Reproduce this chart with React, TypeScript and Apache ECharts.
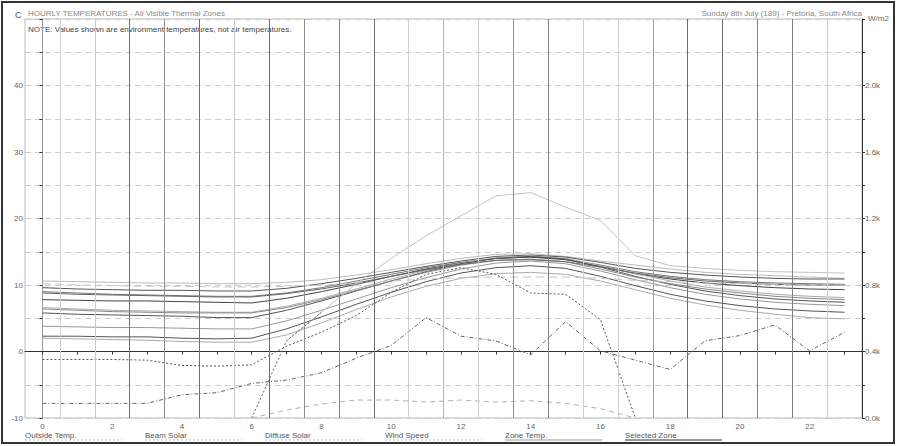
import React, { useEffect, useRef } from "react";
import * as echarts from "echarts";

const FONT = '"Liberation Sans", Arial, sans-serif';

// ---- axes / categories ----
const hours = [0, 1, 2, 3, 4, 5, 6, 7, 8, 9, 10, 11, 12, 13, 14, 15, 16, 17, 18, 19, 20, 21, 22, 23];
const xLabelHours = [0, 2, 4, 6, 8, 10, 12, 14, 16, 18, 20, 22];
const halfHourLines = [0.5, 1.5, 2.5, 3.5, 4.5, 5.5, 6.5, 7.5, 8.5, 9.5, 10.5, 11.5, 12.5, 13.5, 14.5, 15.5, 16.5, 17.5, 18.5, 19.5, 20.5, 21.5, 22.5];
const halfHourShades = ["#d2d2d2", "#c8c8c8", "#707070", "#909090", "#707070", "#c8c8c8", "#6c6c6c", "#909090", "#808080", "#6c6c6c", "#d0d0d0", "#b4b4b4", "#cccccc", "#909090", "#808080", "#d0d0d0", "#d0d0d0", "#a0a0a0", "#6c6c6c", "#6c6c6c", "#808080", "#808080", "#d0d0d0"];

// ---- zone temperatures (deg C) ----
const zone1 = [10.6, 10.5, 10.4, 10.3, 10.3, 10.2, 10.2, 10.4, 10.8, 11.5, 12.3, 13.2, 14.0, 14.6, 14.7, 14.3, 13.6, 13.0, 12.4, 11.9, 11.6, 11.4, 11.2, 11.0];
const zone2 = [9.6, 9.4, 9.3, 9.2, 9.2, 9.1, 9.1, 9.5, 10.2, 11.0, 11.9, 12.8, 13.6, 14.3, 14.5, 14.2, 13.4, 12.5, 11.9, 11.5, 11.2, 11.0, 10.9, 10.9];
const zone3 = [9.0, 8.8, 8.6, 8.5, 8.4, 8.3, 8.3, 8.8, 9.6, 10.6, 11.6, 12.6, 13.4, 14.0, 14.2, 13.9, 13.0, 12.0, 11.3, 10.8, 10.5, 10.3, 10.2, 10.1];
const zone4 = [7.8, 7.7, 7.6, 7.6, 7.5, 7.4, 7.3, 8.0, 9.0, 10.1, 11.3, 12.4, 13.3, 14.0, 14.2, 13.8, 12.8, 11.7, 10.9, 10.3, 9.9, 9.6, 9.4, 9.3];
const zone5 = [6.6, 6.4, 6.2, 6.1, 6.0, 5.9, 5.9, 6.8, 8.0, 9.4, 10.9, 12.2, 13.3, 14.1, 14.4, 14.0, 12.9, 11.7, 10.6, 9.7, 9.1, 8.6, 8.3, 8.1];
const zone6 = [5.8, 5.6, 5.5, 5.4, 5.3, 5.1, 5.1, 6.2, 7.6, 9.1, 10.6, 12.0, 13.2, 14.0, 14.3, 13.9, 12.7, 11.3, 10.1, 9.1, 8.4, 7.9, 7.6, 7.4];
const zone7 = [6.4, 6.2, 6.0, 5.9, 5.8, 5.8, 5.8, 6.6, 7.8, 9.2, 10.6, 11.9, 13.0, 13.7, 13.9, 13.5, 12.4, 11.2, 10.2, 9.4, 8.8, 8.3, 8.0, 7.8];
const zone8 = [3.8, 3.7, 3.6, 3.6, 3.5, 3.4, 3.4, 4.6, 6.2, 7.9, 9.6, 11.1, 12.4, 13.3, 13.6, 13.2, 12.1, 10.8, 9.6, 8.6, 7.9, 7.4, 7.1, 6.9];
const zone9 = [2.3, 2.3, 2.2, 2.2, 2.0, 1.9, 2.0, 3.4, 5.2, 7.1, 8.9, 10.5, 11.8, 12.6, 12.9, 12.5, 11.3, 9.9, 8.6, 7.6, 6.9, 6.4, 6.1, 5.9];
const zone10 = [2.0, 1.9, 1.8, 1.7, 1.5, 1.4, 1.4, 2.5, 4.3, 6.3, 8.2, 9.8, 11.0, 11.7, 11.9, 11.6, 10.6, 9.3, 8.0, 7.0, 6.2, 5.6, 5.1, 4.9];
const zone11 = [8.8, 8.6, 8.5, 8.4, 8.3, 8.2, 8.2, 8.7, 9.4, 10.3, 11.3, 12.3, 13.1, 13.7, 13.8, 13.5, 12.7, 11.8, 11.1, 10.6, 10.3, 10.1, 10.0, 10.0];
const zone12 = [10.2, 10.0, 9.9, 9.8, 9.8, 9.7, 9.7, 9.8, 10.0, 10.3, 10.6, 10.9, 11.1, 11.2, 11.2, 11.2, 11.0, 10.7, 10.5, 10.3, 10.2, 10.1, 10.0, 10.0];
const zoneColors = ["#bbbbbb", "#555555", "#777777", "#444444", "#aaaaaa", "#555555", "#888888", "#999999", "#555555", "#aaaaaa", "#666666", "#c4c4c4"];

// ---- climate / other curves (read on the left scale) ----
const sunnyZone = [null, null, null, null, null, null, null, 1.6, 5.9, 10.2, 14.0, 17.4, 20.4, 23.4, 23.9, 21.7, 19.7, 14.4, 12.9, 12.5, 12.2, 12.0, 11.9, 11.8];
const beamRise = [null, null, null, null, null, null, -10, 1.6, 5.9, null, null, null, null, null, null, null, null, null, null, null, null, null, null, null];
const outsideTemp = [-1.2, -1.2, -1.2, -1.3, -2.1, -2.2, -2.0, 0.8, 2.9, 5.4, 8.9, 11.6, 12.6, 11.6, 8.8, 8.6, 4.8, -10, null, null, null, null, null, null];
const windSpeed = [-7.8, -7.8, -7.8, -7.8, -6.5, -6.2, -4.8, -4.3, -3.2, -1.0, 0.9, 5.1, 2.3, 1.6, -0.5, 4.5, 0.1, -1.3, -2.7, 1.6, 2.4, 4.0, 0.1, 2.9];
const diffuseSolar = [null, null, null, null, null, null, -10, -8.8, -7.9, -7.3, -7.3, -7.6, -7.3, -7.6, -7.4, -7.8, -8.6, -10, null, null, null, null, null, null];

const legendItems = [
  { label: "Outside Temp.", color: "#bdbdbd", type: "dotted" },
  { label: "Beam Solar", color: "#bdbdbd", type: "dotted" },
  { label: "Diffuse Solar", color: "#bdbdbd", type: "dotted" },
  { label: "Wind Speed", color: "#bdbdbd", type: "dotted" },
  { label: "Zone Temp.", color: "#999999", type: "solid" },
  { label: "Selected Zone", color: "#333333", type: "solid" },
];
const legendX = [25, 145, 265, 385, 505, 625];

function toPairs(vals: (number | null)[]) {
  return hours.map((h, i) => [h, vals[i]]);
}

function line(name: string, vals: (number | null)[], color: string, type: any, width = 1, z = 3) {
  return {
    type: "line",
    name,
    data: toPairs(vals),
    yAxisIndex: 0,
    symbol: "none",
    showSymbol: false,
    connectNulls: false,
    lineStyle: { color, width, type },
    z,
    silent: true,
  };
}

export default function App() {
  const ref = useRef<HTMLDivElement>(null);

  useEffect(() => {
    if (!ref.current) return;
    const chart = echarts.init(ref.current, undefined, { renderer: "svg" });

    const zones = [zone1, zone2, zone3, zone4, zone5, zone6, zone7, zone8, zone9, zone10, zone11, zone12];
    const series: any[] = [
      {
        type: "line",
        name: "grid-verticals",
        data: [],
        silent: true,
        z: 1,
        markLine: {
          silent: true,
          symbol: ["none", "none"],
          label: { show: false },
          animation: false,
          data: halfHourLines.map((v, i) => ({ xAxis: v, lineStyle: { color: halfHourShades[i], width: 1, type: "solid" } })),
        },
      },
    ];
    zones.forEach((z, i) => {
      series.push(line("Zone " + (i + 1), z, zoneColors[i], i === 11 ? [8, 5] : "solid"));
    });
    series.push(line("Sunny zone", sunnyZone, "#c2c2c2", "solid"));
    series.push(line("Beam rise", beamRise, "#666666", [2, 2]));
    series.push(line("Outside Temp.", outsideTemp, "#555555", [2, 2]));
    series.push(line("Wind Speed", windSpeed, "#666666", [4, 2, 1, 2]));
    series.push(line("Diffuse Solar", diffuseSolar, "#b0b0b0", [5, 4]));

    const graphic: any[] = [
      { type: "rect", shape: { x: 2, y: 2, width: 892, height: 441 }, style: { fill: "none", stroke: "#333", lineWidth: 2 }, silent: true },
      { type: "text", x: 15, y: 15, style: { text: "C", fill: "#555", font: "9px " + FONT, textVerticalAlign: "middle" } },
      { type: "text", x: 28, y: 13, style: { text: "HOURLY TEMPERATURES - All Visible Thermal Zones", fill: "#888", font: "8px " + FONT, textVerticalAlign: "middle" } },
      { type: "text", x: 28, y: 29, style: { text: "NOTE: Values shown are environment temperatures, not air temperatures.", fill: "#444", font: "8px " + FONT, textVerticalAlign: "middle" } },
      { type: "text", x: 862, y: 13, style: { text: "Sunday 8th July (189) - Pretoria, South Africa", fill: "#888", font: "8px " + FONT, textAlign: "right", textVerticalAlign: "middle" } },
      { type: "text", x: 868, y: 18, style: { text: "W/m2", fill: "#666", font: "8px " + FONT, textVerticalAlign: "middle" } },
    ];
    legendItems.forEach((it, i) => {
      const x = legendX[i];
      graphic.push({ type: "text", x, y: 435, style: { text: it.label, fill: "#555", font: "8px " + FONT, textVerticalAlign: "middle" } });
      graphic.push({
        type: "line",
        shape: { x1: x, y1: 440, x2: x + 97, y2: 440 },
        style: { stroke: it.color, lineWidth: 1, lineDash: it.type === "dotted" ? [2, 2] : null },
        silent: true,
      });
    });

    chart.setOption({
      animation: false,
      backgroundColor: "#ffffff",
      textStyle: { fontFamily: FONT },
      grid: { left: 25, right: 35, top: 19, bottom: 28, show: true, borderColor: "#bbbbbb", borderWidth: 1, backgroundColor: "transparent" },
      xAxis: {
        type: "value",
        min: -0.5,
        max: 23.5,
        axisLine: { show: true, lineStyle: { color: "#333", width: 1 } },
        axisTick: { show: true, customValues: hours, length: 3, inside: false, lineStyle: { color: "#333" } },
        axisLabel: { customValues: xLabelHours, color: "#666", fontSize: 8, fontFamily: FONT, margin: 4 },
        splitLine: { show: false },
      },
      yAxis: [
        {
          type: "value",
          min: -10,
          max: 50,
          interval: 5,
          position: "left",
          axisLine: { show: true, lineStyle: { color: "#999" } },
          axisTick: { show: true, length: 3, lineStyle: { color: "#333" } },
          axisLabel: {
            color: "#666",
            fontSize: 8,
            fontFamily: FONT,
            margin: 2,
            formatter: (v: number) => (v % 10 === 0 && v < 50 ? String(v) : ""),
          },
          splitLine: { show: true, lineStyle: { color: "#cccccc", type: [6, 4], width: 1 } },
        },
        {
          type: "value",
          min: 0,
          max: 2400,
          interval: 200,
          position: "right",
          axisLine: { show: true, lineStyle: { color: "#333" } },
          axisTick: { show: true, length: 3, lineStyle: { color: "#333" } },
          axisLabel: {
            color: "#666",
            fontSize: 8,
            fontFamily: FONT,
            margin: 3,
            formatter: (v: number) => (v % 400 === 0 && v < 2400 ? (v / 1000).toFixed(1) + "k" : ""),
          },
          splitLine: { show: false },
        },
      ],
      series,
      graphic,
    });

    return () => chart.dispose();
  }, []);

  return (
    <div
      ref={ref}
      style={{ position: "fixed", left: 0, top: 0, width: 897, height: 446, background: "#fff" }}
    />
  );
}
